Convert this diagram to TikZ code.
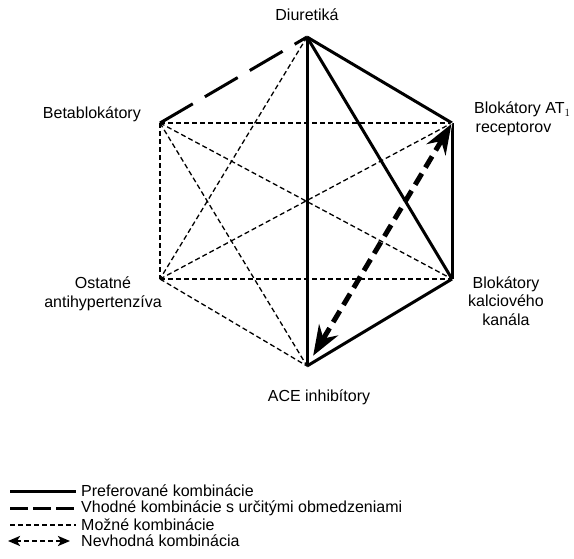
\documentclass[tikz,border=0pt]{standalone}
\usepackage{fontspec}
\setmainfont{Liberation Sans}
\usetikzlibrary{arrows.meta}
\begin{document}
\begin{tikzpicture}[x=1pt,y=-1pt,
  every node/.style={font=\fontsize{16}{18.5}\selectfont, inner sep=0pt, align=center},
  pref/.style={line width=3pt},
  vhod/.style={line width=3pt, dash pattern=on 38pt off 14pt},
  vhodleg/.style={line width=3pt, dash pattern=on 18pt off 5pt},
  mozne/.style={line width=1.3pt, dash pattern=on 5pt off 3pt},
  halohead/.tip={Stealth[length=34pt,width=26pt,inset=11pt,white]},
  bighead/.tip={Stealth[length=30pt,width=22pt,inset=10pt,black]},
  nevhodhalo/.style={line width=1pt, draw=none, halohead-halohead},
  nevhod/.style={line width=5pt, dash pattern=on 13pt off 7pt, bighead-bighead},
  nevhodleg/.style={line width=2.5pt, dash pattern=on 5pt off 3pt,
    {Stealth[length=12pt,width=10pt,inset=3pt]}-{Stealth[length=12pt,width=10pt,inset=3pt]}}
]
\useasboundingbox (0,0) rectangle (574,558);
% vertices
\coordinate (D)   at (307,37);
\coordinate (AT)  at (452,123);
\coordinate (CA)  at (452,279);
\coordinate (ACE) at (307,366);
\coordinate (OA)  at (160,279);
\coordinate (BB)  at (160,123);
% labels
\node (lD)   at (307,15) {Diuretiká};
\node[anchor=east] (lBB) at (141,114) {Betablokátory};
\node[anchor=west,align=left] (lAT) at (474,119) {Blokátory AT$_1$\\\hspace*{1.5pt}receptorov};
\node (lCA)  at (506,301) {Blokátory\\kalciového\\kanála};
\node (lOA)  at (103,294) {Ostatné\\antihypertenzíva};
\node (lACE) at (319,397) {ACE inhibítory};
% possible combinations
\draw[mozne] (D) -- (OA);
\draw[mozne] (BB) -- (AT);
\draw[mozne] (BB) -- (CA);
\draw[mozne] (BB) -- (OA);
\draw[mozne] (BB) -- (ACE);
\draw[mozne] (OA) -- (AT);
\draw[mozne] (OA) -- (CA);
\draw[mozne] (OA) -- (ACE);
% suitable with restrictions
\draw[vhod] (BB) -- (D);
% preferred
\draw[pref] (D) -- (AT);
\draw[pref] (D) -- (CA);
\draw[pref] (D) -- (ACE);
\draw[pref] (AT) -- (CA);
\draw[pref] (CA) -- (ACE);
% unsuitable
\draw[line width=5pt, white, halohead-halohead, shorten <=-1pt, shorten >=10pt, dash pattern=on 0pt off 1000pt] (AT) -- (ACE);
\draw[nevhod, shorten <=1pt, shorten >=12pt] (AT) -- (ACE);
% legend
\coordinate (a1) at (10,491); \coordinate (b1) at (76,491);
\coordinate (a2) at (10,508); \coordinate (b2) at (76,508);
\coordinate (a3) at (10,525); \coordinate (b3) at (76,525);
\coordinate (a4) at (8,541);  \coordinate (b4) at (70,541);
\draw[pref] (a1) -- (b1);
\draw[vhodleg] (a2) -- (b2);
\draw[mozne] (a3) -- (b3);
\draw[nevhodleg] (a4) -- (b4);
\node[anchor=west] (t1) at (81,491) {Preferované kombinácie};
\node[anchor=west] (t2) at (81,508) {Vhodné kombinácie s určitými obmedzeniami};
\node[anchor=west] (t3) at (81,525) {Možné kombinácie};
\node[anchor=west] (t4) at (81,541) {Nevhodná kombinácia};
\end{tikzpicture}
\end{document}
